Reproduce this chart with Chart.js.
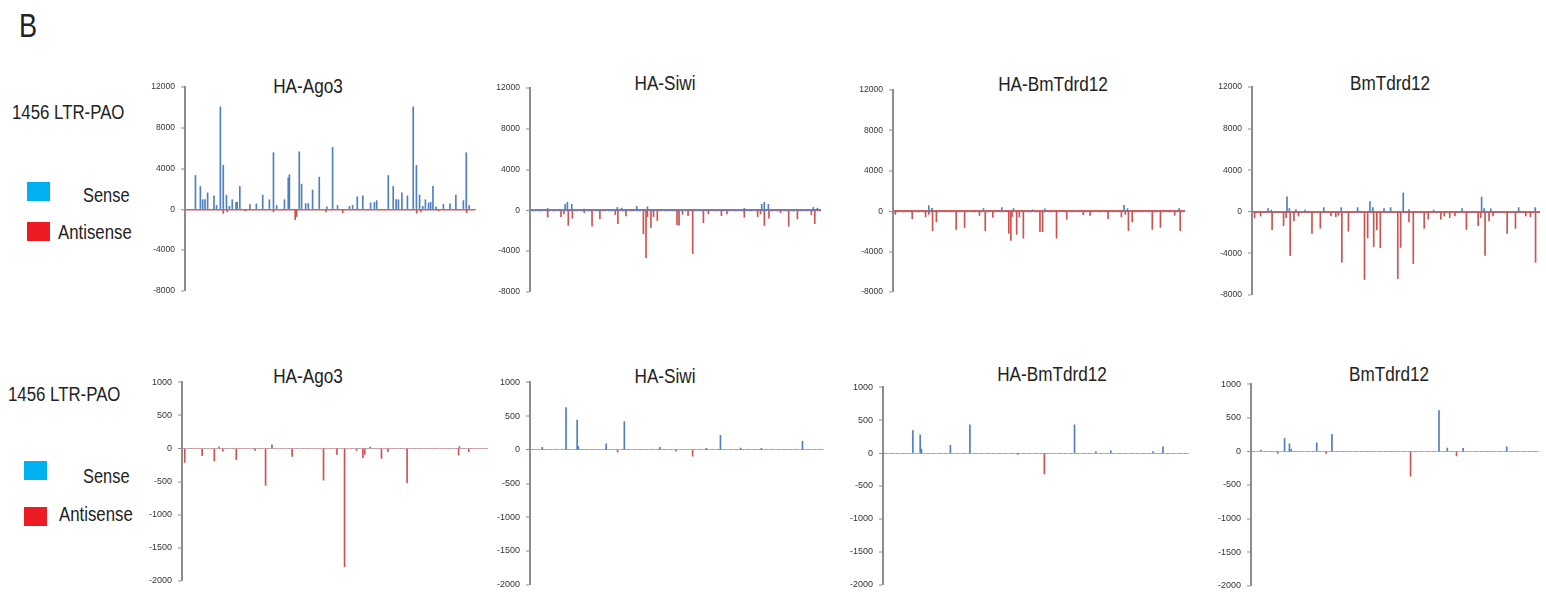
<!DOCTYPE html>
<html>
<head>
<meta charset="utf-8">
<script src="https://cdn.jsdelivr.net/npm/chart.js@4.4.0/dist/chart.umd.min.js"></script>
<style>
  body { margin: 0; background: #fff; width: 1546px; height: 599px; position: relative; overflow: hidden; }
  /* narrow look: Liberation Sans squeezed sideways */
  .txt { position: absolute; white-space: nowrap; line-height: 1; color: #222;
         font-family: "Liberation Sans", Arial, sans-serif; transform: scaleX(0.82); transform-origin: 0 0; }
  .title { transform: scaleX(0.88); transform-origin: 50% 0; text-align: center; width: 200px; }
  .sq { position: absolute; width: 23px; height: 19px; }
  canvas { position: absolute; }
</style>
</head>
<body>
<div class="txt" style="left:19px;top:9px;font-size:33px">B</div>

<div class="txt" style="left:12px;top:102px;font-size:20.5px">1456 LTR-PAO</div>
<div class="sq" style="left:27px;top:182px;background:#00b0f0"></div>
<div class="txt" style="left:83px;top:185px;font-size:20px">Sense</div>
<div class="sq" style="left:27px;top:222px;background:#ed1c24"></div>
<div class="txt" style="left:58px;top:222px;font-size:20.5px">Antisense</div>

<div class="txt" style="left:8px;top:384px;font-size:20.5px">1456 LTR-PAO</div>
<div class="sq" style="left:24px;top:461px;background:#00b0f0"></div>
<div class="txt" style="left:83px;top:466px;font-size:20px">Sense</div>
<div class="sq" style="left:24px;top:507px;background:#ed1c24"></div>
<div class="txt" style="left:59px;top:504px;font-size:20.5px">Antisense</div>

<script>
// positions along the element (0-1000) and read counts, one pair of lists per series

// top row, HA-Ago3
const topAgo3SensePos = [36, 53, 61, 69, 78, 100, 109, 122, 132, 143, 153, 163, 176, 180, 189, 224, 246, 268, 291, 305, 316, 343, 356, 360, 394, 402, 416, 425, 440, 463, 489, 509, 526, 567, 578, 594, 613, 640, 653, 661, 701, 718, 728, 736, 748, 767, 787, 798, 809, 820, 829, 840, 847, 855, 866, 891, 914, 934, 960, 970, 980]
const topAgo3SenseVal = [3330, 2250, 950, 950, 1620, 1330, 380, 10060, 4320, 1400, 300, 950, 700, 700, 2250, 480, 540, 1400, 950, 5560, 380, 950, 3080, 3400, 5650, 2480, 570, 570, 1900, 3170, 250, 6100, 380, 300, 380, 1240, 1330, 630, 700, 860, 3330, 2250, 950, 950, 1620, 1330, 10060, 4320, 1400, 300, 950, 630, 700, 2250, 250, 480, 540, 1400, 860, 5560, 380]
const topAgo3AntiPos = [132, 146, 208, 305, 380, 385, 486, 544, 799, 813, 874, 971]
const topAgo3AntiVal = [-380, -250, -160, -250, -1020, -700, -250, -320, -380, -250, -160, -320]

// top row, HA-Siwi
const topSiwiSensePos = [61, 121, 129, 144, 186, 301, 316, 368, 405, 739, 799, 808, 822, 977, 991]
const topSiwiSenseVal = [190, 600, 800, 600, 130, 290, 220, 410, 350, 190, 600, 800, 600, 290, 220]
const topSiwiAntiPos = [61, 107, 117, 132, 146, 187, 214, 241, 294, 303, 331, 391, 400, 405, 417, 426, 439, 507, 514, 526, 545, 561, 598, 615, 660, 679, 739, 785, 795, 808, 824, 864, 892, 922, 970, 982]
const topSiwiAntiVal = [-670, -610, -350, -1470, -770, -220, -1560, -830, -410, -1310, -540, -2300, -4630, -610, -1660, -610, -990, -1400, -1440, -380, -510, -4240, -1210, -350, -510, -350, -670, -610, -350, -1470, -770, -220, -1560, -830, -410, -1310]

// top row, HA-BmTdrd12
const topHaTdrdSensePos = [123, 134, 311, 374, 414, 480, 522, 794, 806, 983]
const topHaTdrdSenseVal = [550, 290, 260, 350, 260, 130, 230, 580, 260, 260]
const topHaTdrdAntiPos = [8, 66, 112, 123, 136, 149, 217, 246, 297, 317, 343, 398, 405, 409, 425, 434, 448, 505, 514, 562, 597, 654, 677, 739, 785, 798, 809, 822, 891, 919, 968, 987]
const topHaTdrdAntiVal = [-320, -740, -580, -320, -1940, -1060, -1810, -1610, -420, -1940, -610, -2190, -2900, -520, -2290, -580, -2680, -2030, -2030, -2680, -810, -350, -420, -740, -580, -320, -1940, -1060, -1810, -1610, -420, -1940]

// top row, BmTdrd12
const topTdrdSensePos = [56, 67, 122, 130, 153, 185, 250, 311, 368, 411, 421, 460, 483, 527, 547, 633, 732, 800, 809, 832, 929, 987]
const topTdrdSenseVal = [310, 160, 1430, 310, 220, 160, 400, 400, 400, 970, 400, 310, 400, 1810, 220, 160, 310, 1430, 310, 280, 400, 400]
const topTdrdAntiPos = [9, 30, 70, 110, 119, 133, 146, 162, 209, 238, 275, 292, 301, 313, 336, 392, 403, 424, 435, 447, 508, 518, 547, 562, 600, 614, 658, 670, 689, 707, 747, 788, 797, 812, 826, 840, 889, 918, 954, 970, 988]
const topTdrdAntiVal = [-590, -410, -1710, -1340, -560, -4210, -870, -410, -2090, -1590, -410, -470, -340, -4860, -1870, -6520, -2520, -3370, -1710, -3460, -6450, -3430, -970, -4990, -1590, -720, -720, -410, -560, -410, -1710, -1340, -560, -4210, -870, -410, -2090, -1590, -410, -470, -4860]

// bottom row, HA-Ago3
const botAgo3SensePos = [121, 295, 617, 910]
const botAgo3SenseVal = [20, 55, 20, 30]
const botAgo3AntiPos = [9, 66, 106, 134, 178, 240, 274, 361, 464, 508, 533, 572, 593, 599, 654, 675, 738, 907, 940]
const botAgo3AntiVal = [-210, -110, -190, -40, -170, -30, -560, -120, -480, -90, -1790, -30, -140, -90, -150, -50, -520, -100, -50]

// bottom row, HA-Siwi
const botSiwiSensePos = [42, 123, 161, 165, 260, 322, 443, 602, 650, 719, 790, 930]
const botSiwiSenseVal = [35, 625, 440, 50, 90, 420, 35, 20, 215, 25, 20, 125]
const botSiwiAntiPos = [299, 498, 555]
const botSiwiAntiVal = [-35, -20, -95]

// bottom row, HA-BmTdrd12
const botHaTdrdSensePos = [98, 122, 126, 221, 285, 628, 698, 747, 885, 918]
const botHaTdrdSenseVal = [345, 280, 60, 120, 430, 430, 20, 35, 25, 95]
const botHaTdrdAntiPos = [442, 529]
const botHaTdrdAntiVal = [-20, -315]

// bottom row, BmTdrd12
const botTdrdSensePos = [35, 117, 134, 140, 229, 282, 655, 684, 739, 891]
const botTdrdSenseVal = [20, 195, 115, 30, 130, 255, 610, 50, 45, 70]
const botTdrdAntiPos = [93, 262, 556, 716]
const botTdrdAntiVal = [-30, -30, -370, -65]

// y axis ranges for the two rows
const topTicks = { min: -8000, max: 12000, step: 4000 }
const botTicks = { min: -2000, max: 1000, step: 500 }

const SENSE = `#4f7fc0`
const ANTI = `#cc5350`
const RED = `#d0605d`
const BLUE = `#5a86c6`
const PALE_RED = `#e6a3a1`
const PALE_BLUE = `#86a8da`

// axisX/right = plot left and right edge, top/bottom = highest and lowest tick, titleX = title centre
const panels = [
	{ title: `HA-Ago3`, titleX: 308, capTop: 80, axisX: 185, right: 475, top: 84, bottom: 294, range: topTicks, font: 8.5,
		sense: [topAgo3SensePos, topAgo3SenseVal], anti: [topAgo3AntiPos, topAgo3AntiVal], under: BLUE, underW: 1, over: RED, overW: 1.6, dash: [] },
	{ title: `HA-Siwi`, titleX: 665, capTop: 77, axisX: 530, right: 820, top: 85, bottom: 295, range: topTicks, font: 8.5,
		sense: [topSiwiSensePos, topSiwiSenseVal], anti: [topSiwiAntiPos, topSiwiAntiVal], under: RED, underW: 2, over: BLUE, overW: 1.2, dash: [5, 2] },
	{ title: `HA-BmTdrd12`, titleX: 1053, capTop: 78, axisX: 893, right: 1184, top: 87, bottom: 295, range: topTicks, font: 8.5,
		sense: [topHaTdrdSensePos, topHaTdrdSenseVal], anti: [topHaTdrdAntiPos, topHaTdrdAntiVal], under: RED, underW: 2, over: BLUE, overW: 1.2, dash: [5, 2] },
	{ title: `BmTdrd12`, titleX: 1390, capTop: 77, axisX: 1252, right: 1539, top: 84, bottom: 298, range: topTicks, font: 8.5,
		sense: [topTdrdSensePos, topTdrdSenseVal], anti: [topTdrdAntiPos, topTdrdAntiVal], under: RED, underW: 2, over: BLUE, overW: 1.2, dash: [5, 2] },
	{ title: `HA-Ago3`, titleX: 308, capTop: 370, axisX: 182, right: 487, top: 379, bottom: 584, range: botTicks, font: 9,
		sense: [botAgo3SensePos, botAgo3SenseVal], anti: [botAgo3AntiPos, botAgo3AntiVal], under: PALE_RED, underW: 1, over: PALE_BLUE, overW: 1, dash: [2, 5] },
	{ title: `HA-Siwi`, titleX: 665, capTop: 370, axisX: 530, right: 823, top: 379, bottom: 588, range: botTicks, font: 9,
		sense: [botSiwiSensePos, botSiwiSenseVal], anti: [botSiwiAntiPos, botSiwiAntiVal], under: PALE_RED, underW: 1, over: PALE_BLUE, overW: 1, dash: [3, 3] },
	{ title: `HA-BmTdrd12`, titleX: 1052, capTop: 368, axisX: 883, right: 1188, top: 384, bottom: 588, range: botTicks, font: 9,
		sense: [botHaTdrdSensePos, botHaTdrdSenseVal], anti: [botHaTdrdAntiPos, botHaTdrdAntiVal], under: PALE_RED, underW: 1, over: PALE_BLUE, overW: 1, dash: [3, 3] },
	{ title: `BmTdrd12`, titleX: 1389, capTop: 368, axisX: 1251, right: 1538, top: 381, bottom: 589, range: botTicks, font: 9,
		sense: [botTdrdSensePos, botTdrdSenseVal], anti: [botTdrdAntiPos, botTdrdAntiVal], under: PALE_RED, underW: 1, over: PALE_BLUE, overW: 1, dash: [3, 3] }
]

const LABEL_W = 50
const PAD = 8
const TITLE_SIZE = 19.5

const pairs = (pos, val) => pos.map((p, i) => ({ x: p, y: val[i] }))

panels.forEach(p => {
	//  title sits as plain text over the plot
	const t = document.createElement(`div`)
	t.className = `txt title`
	t.textContent = p.title
	t.style.fontSize = `${TITLE_SIZE}px`
	t.style.top = `${p.capTop - TITLE_SIZE * 0.13}px`
	t.style.left = `${p.titleX - 100}px`
	document.body.appendChild(t)

	const canvas = document.createElement(`canvas`)
	canvas.width = p.right - p.axisX + LABEL_W + 2
	canvas.height = p.bottom - p.top + PAD * 2
	canvas.style.left = `${p.axisX - LABEL_W}px`
	canvas.style.top = `${p.top - PAD}px`
	document.body.appendChild(canvas)

	const isZero = c => c.tick && c.tick.value === 0

	new Chart(canvas, {
		type: `bar`,
		data: {
			datasets: [
				{ label: `Sense`, data: pairs(...p.sense), backgroundColor: SENSE, barThickness: 1, grouped: false },
				{ label: `Antisense`, data: pairs(...p.anti), backgroundColor: ANTI, barThickness: 1, grouped: false }
			]
		},
		options: {
			responsive: false,
			animation: false,
			devicePixelRatio: 1,
			layout: { padding: { top: PAD, bottom: PAD, left: 0, right: 2 } },
			plugins: { legend: { display: false }, tooltip: { enabled: false } },
			scales: {
				//  hidden x axis, only its line is kept as the zero baseline
				x: {
					type: `linear`, min: 0, max: 1000, offset: false,
					position: { y: 0 },
					ticks: { display: false },
					grid: { display: false, z: -3 },
					border: { display: true, color: p.under, width: p.underW, z: -2 }
				},
				y: {
					min: p.range.min, max: p.range.max,
					ticks: {
						stepSize: p.range.step,
						padding: 6,
						color: `#333`,
						font: { family: `"Liberation Sans", Arial, sans-serif`, size: p.font },
						callback: v => String(v)
					},
					grid: {
						drawOnChartArea: true,
						color: c => isZero(c) ? p.over : `rgba(0,0,0,0)`,
						lineWidth: c => isZero(c) ? p.overW : 0,
						tickColor: `#8c8c8c`,
						tickWidth: 1,
						tickLength: 4,
						tickBorderDash: [],
						z: -1
					},
					border: { color: `#8c8c8c`, width: 2, dash: p.dash },
					afterFit: s => { s.width = LABEL_W }
				}
			}
		}
	})
})
</script>
</body>
</html>
